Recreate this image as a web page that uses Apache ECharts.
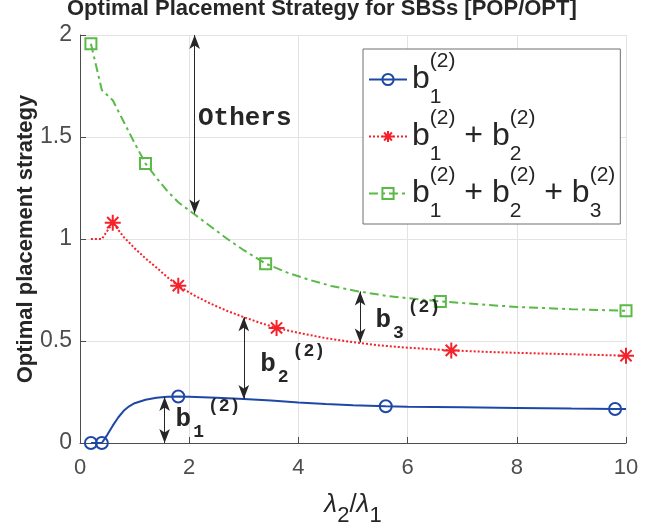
<!DOCTYPE html>
<html><head><meta charset="utf-8">
<script src="https://cdn.jsdelivr.net/npm/echarts@6/dist/echarts.min.js"></script>
<style>html,body{margin:0;padding:0;background:#fff}#c{width:662px;height:527px}</style>
</head><body><div id="c"></div>
<script>
// ---- data ----
const xTicks = [0, 2, 4, 6, 8, 10];
const yTicks = [0, 0.5, 1, 1.5, 2];

const b1X = [0.2,0.4,0.5,0.6,0.7,0.8,0.9,1.0,1.2,1.4,1.6,1.8,2.0,2.5,3.0,3.5,4.0,4.5,5.0,5.6,6.0,7.0,8.0,9.0,9.8,10];
const b1Y = [0,0,0.04,0.085,0.125,0.158,0.18,0.195,0.212,0.222,0.227,0.228,0.227,0.222,0.216,0.208,0.199,0.191,0.185,0.180,0.178,0.175,0.172,0.169,0.167,0.167];
const b1Marks = [0.2, 0.4, 1.8, 5.6, 9.8];

const b12X = [0.2,0.4,0.6,0.8,1.0,1.2,1.4,1.6,1.8,2.1,2.4,2.7,3.0,3.3,3.6,4.0,4.5,5.0,5.5,6.0,6.8,7.5,8.0,9.0,10];
const b12Y = [1.0,1.0,1.08,1.01,0.955,0.905,0.86,0.813,0.771,0.722,0.682,0.647,0.617,0.589,0.564,0.54,0.514,0.494,0.478,0.467,0.454,0.446,0.442,0.435,0.428];
const b12Marks = [0.6, 1.8, 3.6, 6.8, 10];

const b123X = [0.2,0.4,0.6,0.8,1.0,1.2,1.4,1.6,1.8,2.1,2.4,2.7,3.0,3.4,3.8,4.2,4.6,5.1,5.6,6.0,6.6,7.3,8.0,9.0,10];
const b123Y = [1.957,1.73,1.68,1.575,1.47,1.37,1.3,1.235,1.18,1.12,1.06,1.0,0.945,0.879,0.835,0.80,0.77,0.743,0.722,0.71,0.694,0.68,0.667,0.656,0.648];
const b123Marks = [0.2, 1.2, 3.4, 6.6, 10];

const seriesNames = ['b1', 'b12', 'b123'];

// annotations (data coordinates)
const arrowX = [2.1, 1.55, 3.0, 5.13];
const arrowLow = [1.125, 0, 0.216, 0.493];
const arrowHigh = [2.0, 0.226, 0.617, 0.743];

const noteX = [2.16, 1.75, 3.30, 5.41];
const noteY = [1.593, 0.113, 0.387, 0.603];
const noteText = ['{o|Others}', '{m|b}{s|1}{p|(2)}', '{m|b}{s|2}{p|(2)}', '{m|b}{s|3}{p|(2)}'];

const legendText = {
  b1: '{m|b}{s|1}{p|(2)}',
  b12: '{m|b}{s|1}{p|(2)}{m| + b}{s|2}{p|(2)}',
  b123: '{m|b}{s|1}{p|(2)}{m| + b}{s|2}{p|(2)}{m| + b}{s|3}{p|(2)}'
};

// ---- styles ----
const BLUE = '#1f48a6', RED = '#f5222a', GREEN = '#5ab947', INK = '#262626', AX = '#4d4d4d';
const SANS = 'Liberation Sans, Arial, sans-serif';
const MONO = 'Liberation Mono, Courier New, monospace';
const asterisk = 'path://M10,0L10,20M0,10L20,10M3,3L17,17M3,17L17,3';

function lineData(xs, ys, marks) {
  return xs.map((x, i) => marks.indexOf(x) >= 0 ? [x, ys[i]] : { value: [x, ys[i]], symbol: 'none' });
}

const chart = echarts.init(document.getElementById('c'));
chart.setOption({
  animation: false,
  backgroundColor: '#fff',
  title: {
    text: 'Optimal Placement Strategy for SBSs [POP/OPT]',
    left: 67, top: -2, padding: 0,
    textStyle: { fontSize: 22, fontWeight: 'bold', fontFamily: SANS, color: INK }
  },
  grid: { left: 80, right: 36, top: 35, bottom: 84, containLabel: false, outerBoundsMode: 'none' },
  xAxis: {
    type: 'value', min: 0, max: 10, interval: 2,
    name: '{l|λ}{s|2}{n|/}{l|λ}{s|1}',
    nameLocation: 'middle', nameGap: 40, nameMoveOverlap: false,
    nameTextStyle: {
      color: INK, fontFamily: SANS, verticalAlign: 'top',
      rich: {
        l: { fontSize: 26, fontStyle: 'italic', fontFamily: SANS, color: INK, lineHeight: 44 },
        n: { fontSize: 26, fontFamily: SANS, color: INK, lineHeight: 44 },
        s: { fontSize: 22, fontFamily: SANS, color: INK, lineHeight: 24, verticalAlign: 'bottom' }
      }
    },
    axisLine: { show: true, onZero: false, lineStyle: { color: AX, width: 1 } },
    axisTick: { show: true, inside: true, length: 6, lineStyle: { color: AX } },
    axisLabel: { fontSize: 22, color: AX, fontFamily: SANS, margin: 14,
      formatter: v => xTicks.indexOf(v) >= 0 ? String(v) : '' },
    splitLine: { show: true, lineStyle: { color: '#e3e3e3', width: 1 } }
  },
  yAxis: {
    type: 'value', min: 0, max: 2, interval: 0.5,
    name: 'Optimal placement strategy',
    nameLocation: 'middle', nameGap: 43, nameRotate: 90, nameMoveOverlap: false,
    nameTextStyle: { fontSize: 22, fontWeight: 'bold', fontFamily: SANS, color: INK },
    axisLine: { show: true, onZero: false, lineStyle: { color: AX, width: 1 } },
    axisTick: { show: true, inside: true, length: 6, lineStyle: { color: AX } },
    axisLabel: { fontSize: 23, color: AX, fontFamily: SANS, margin: 8,
      formatter: v => yTicks.indexOf(v) >= 0 ? String(v) : '' },
    splitLine: { show: true, lineStyle: { color: '#e3e3e3', width: 1 } }
  },
  legend: {
    data: seriesNames,
    orient: 'vertical', left: 363, top: 49,
    padding: [2, 5, 2, 5], itemGap: 0, itemWidth: 38, itemHeight: 14,
    backgroundColor: '#fff', borderColor: '#6e6e6e', borderWidth: 1, borderRadius: 0,
    selectedMode: false,
    formatter: name => legendText[name],
    textStyle: {
      color: INK, fontFamily: SANS,
      rich: {
        m: { fontSize: 32, fontFamily: SANS, color: INK, lineHeight: 57 },
        s: { fontSize: 21, fontFamily: SANS, color: INK, lineHeight: 19, verticalAlign: 'bottom', width: 0, align: 'left' },
        p: { fontSize: 21, fontFamily: SANS, color: INK, lineHeight: 32, verticalAlign: 'top' }
      }
    }
  },
  series: [
    {
      name: 'b1', type: 'line', data: lineData(b1X, b1Y, b1Marks),
      showAllSymbol: true, symbol: 'circle', symbolSize: 12,
      lineStyle: { color: BLUE, width: 2, type: 'solid' },
      itemStyle: { color: 'rgba(0,0,0,0)', borderColor: BLUE, borderWidth: 2 },
      z: 3
    },
    {
      name: 'b12', type: 'line', data: lineData(b12X, b12Y, b12Marks),
      showAllSymbol: true, symbol: asterisk, symbolSize: 16,
      lineStyle: { color: RED, width: 2, type: 'dotted' },
      itemStyle: { color: 'rgba(0,0,0,0)', borderColor: RED, borderWidth: 2 },
      z: 3
    },
    {
      name: 'b123', type: 'line', data: lineData(b123X, b123Y, b123Marks),
      showAllSymbol: true, symbol: 'rect', symbolSize: 11,
      lineStyle: { color: GREEN, width: 2, type: [9, 4, 3, 4] },
      itemStyle: { color: 'rgba(0,0,0,0)', borderColor: GREEN, borderWidth: 2 },
      z: 3
    },
    {
      name: 'notes', type: 'line', data: [], silent: true,
      markLine: {
        silent: true, animation: false,
        symbol: ['arrow', 'arrow'], symbolSize: [8, 14],
        lineStyle: { color: INK, width: 1, type: 'solid' },
        label: { show: false },
        data: arrowX.map((x, i) => [{ coord: [x, arrowLow[i]] }, { coord: [x, arrowHigh[i]] }])
      },
      markPoint: {
        silent: true, animation: false, symbol: 'circle', symbolSize: 0,
        data: noteX.map((x, i) => ({
          coord: [x, noteY[i]],
          label: {
            show: true, position: 'right', distance: 0,
            formatter: noteText[i],
            rich: {
              o: { fontSize: 26, fontFamily: MONO, fontWeight: 'bold', color: INK, lineHeight: 30 },
              m: { fontSize: 26, fontFamily: MONO, fontWeight: 'bold', color: INK, lineHeight: 44 },
              s: { fontSize: 18, fontFamily: MONO, fontWeight: 'bold', color: INK, lineHeight: 16, verticalAlign: 'bottom', padding: [0, 4, 0, 2] },
              p: { fontSize: 18, fontFamily: MONO, fontWeight: 'bold', color: INK, lineHeight: 26, verticalAlign: 'top' }
            }
          }
        }))
      }
    }
  ]
});
</script></body></html>
